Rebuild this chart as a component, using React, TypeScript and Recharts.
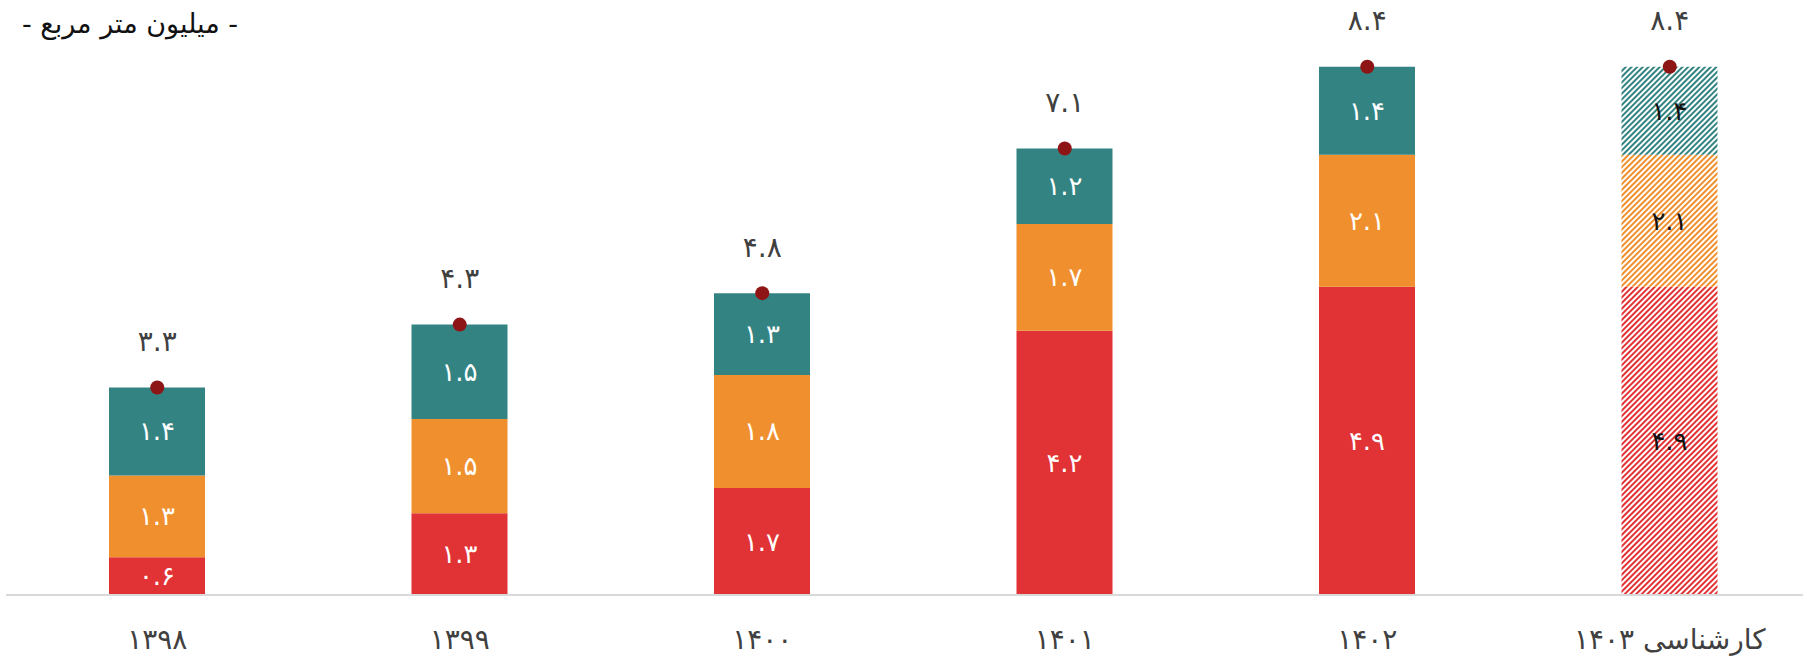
import React from 'react';
import { ComposedChart, Bar, Line, XAxis, YAxis, Cell, LabelList } from 'recharts';

const categories = ['1398', '1399', '1400', '1401', '1402', 'کارشناسی 1403'];
const redValues = [0.6, 1.3, 1.7, 4.2, 4.9, 4.9];
const orangeValues = [1.3, 1.5, 1.8, 1.7, 2.1, 2.1];
const tealValues = [1.4, 1.5, 1.3, 1.2, 1.4, 1.4];
const totalValues = [3.3, 4.3, 4.8, 7.1, 8.4, 8.4];
const hatchedIndex = [false, false, false, false, false, true];

const COLORS = { red: '#E13235', orange: '#EF8F2D', teal: '#338382' };
const FONT = '"DejaVu Sans", sans-serif';

const faDigits = ['۰', '۱', '۲', '۳', '۴', '۵', '۶', '۷', '۸', '۹'];
const toFa = (s: string | number) => String(s).replace(/[0-9]/g, (d) => faDigits[Number(d)]);

const data = categories.map((c, i) => ({
  name: toFa(c),
  red: redValues[i],
  orange: orangeValues[i],
  teal: tealValues[i],
  total: totalValues[i],
  hatched: hatchedIndex[i],
}));

const makeInnerLabel = (key: string) => (props: any) => {
  const { x, y, width, height, value, index } = props;
  const hatched = data[index]?.hatched;
  return (
    <text
      x={x + width / 2}
      y={y + height / 2}
      textAnchor="middle"
      dominantBaseline="central"
      fill={hatched ? '#111' : '#fff'}
      fontSize={26}
      fontFamily={FONT}
    >
      {toFa(value.toFixed(1))}
    </text>
  );
};

const TotalLabel = (props: any) => {
  const { x, y, value } = props;
  return (
    <text
      x={x}
      y={y - 46}
      textAnchor="middle"
      dominantBaseline="central"
      fill="#404040"
      fontSize={28}
      fontFamily={FONT}
    >
      {toFa(value.toFixed(1))}
    </text>
  );
};

const Tick = (props: any) => {
  const { x, y, payload } = props;
  return (
    <text
      x={x}
      y={y + 36}
      textAnchor="middle"
      dominantBaseline="central"
      fill="#404040"
      fontSize={28}
      fontFamily={FONT}
    >
      {payload.value}
    </text>
  );
};

const fillFor = (series: 'red' | 'orange' | 'teal', i: number) =>
  data[i].hatched ? `url(#hatch-${series})` : COLORS[series];

export default function App() {
  return (
    <div style={{ position: 'fixed', left: 0, top: 0, width: 1803, height: 658, overflow: 'hidden', background: '#fff' }}>
      <div
        dir="rtl"
        style={{
          position: 'absolute',
          left: 22,
          top: 8,
          fontFamily: FONT,
          fontSize: 27,
          lineHeight: '32px',
          color: '#111',
          whiteSpace: 'nowrap',
          zIndex: 2,
        }}
      >
        - میلیون متر مربع -
      </div>
      <ComposedChart
        width={1821}
        height={658}
        data={data}
        margin={{ top: 29, right: 0, bottom: 0, left: 6 }}
        barCategoryGap={0}
      >
        <defs>
          {(['red', 'orange', 'teal'] as const).map((k) => (
            <pattern
              key={k}
              id={`hatch-${k}`}
              width={4}
              height={4}
              patternUnits="userSpaceOnUse"
              patternTransform="rotate(45)"
            >
              <rect width={4} height={4} fill="#fff" />
              <rect width={2} height={4} fill={COLORS[k]} />
            </pattern>
          ))}
        </defs>
        <XAxis
          dataKey="name"
          height={63}
          axisLine={{ stroke: '#d9d9d9', strokeWidth: 2 }}
          tickLine={false}
          tick={<Tick />}
          interval={0}
        />
        <YAxis hide domain={[0, 9]} />
        <Bar dataKey="red" stackId="a" barSize={96} isAnimationActive={false}>
          {data.map((_, i) => (
            <Cell key={i} fill={fillFor('red', i)} />
          ))}
          <LabelList dataKey="red" content={makeInnerLabel('red')} />
        </Bar>
        <Bar dataKey="orange" stackId="a" barSize={96} isAnimationActive={false}>
          {data.map((_, i) => (
            <Cell key={i} fill={fillFor('orange', i)} />
          ))}
          <LabelList dataKey="orange" content={makeInnerLabel('orange')} />
        </Bar>
        <Bar dataKey="teal" stackId="a" barSize={96} isAnimationActive={false}>
          {data.map((_, i) => (
            <Cell key={i} fill={fillFor('teal', i)} />
          ))}
          <LabelList dataKey="teal" content={makeInnerLabel('teal')} />
        </Bar>
        <Line
          dataKey="total"
          stroke="none"
          isAnimationActive={false}
          dot={{ r: 7, fill: '#8E1516', stroke: 'none' }}
          activeDot={false}
        >
          <LabelList dataKey="total" content={<TotalLabel />} />
        </Line>
      </ComposedChart>
    </div>
  );
}
